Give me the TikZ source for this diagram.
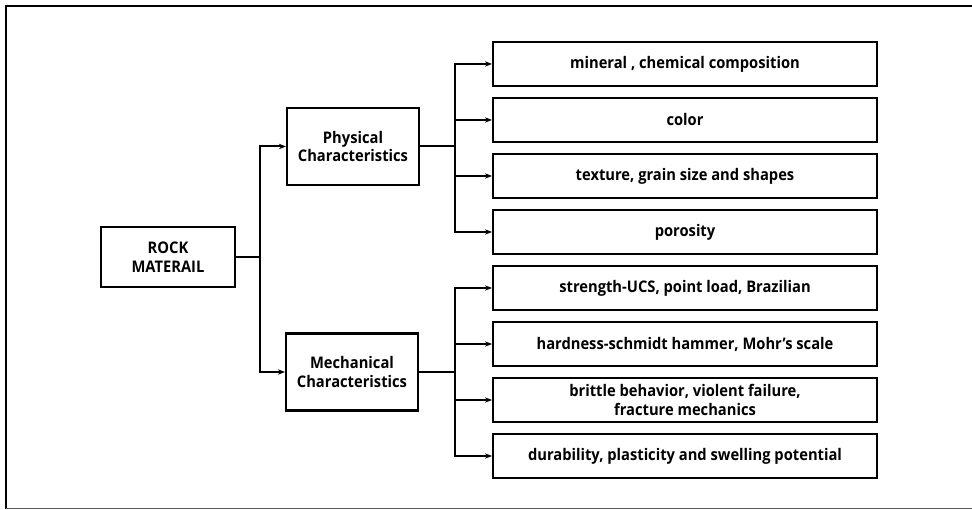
\documentclass[tikz,border=0pt]{standalone}
\usepackage{fontspec}
\setmainfont[FakeStretch=0.92]{Open Sans}
\usetikzlibrary{arrows.meta}
\begin{document}
\begin{tikzpicture}[x=1pt,y=-1pt,
  box/.style={draw=black,line width=2.2pt,fill=white,inner sep=0pt,align=center,
    font=\bfseries\fontsize{16}{18.7}\selectfont},
  leaf/.style={box,minimum width=384pt,minimum height=44pt},
  mid/.style={box,minimum width=132pt,minimum height=77pt},
  conn/.style={line width=2pt},
  arr/.style={conn,-{Stealth[length=7pt,width=5.5pt]}}]
\useasboundingbox (0,0) rectangle (972,510);
\draw[line width=2.6pt] (980,6) -- (6,6) -- (6,508.5);
\draw[line width=1.6pt,black!65] (6,508.5) -- (980,508.5);

\node[box,minimum width=134pt,minimum height=60pt] (root) at (168,257) {ROCK\\MATERAIL};
\node[mid] (phys) at (353,146.5) {Physical\\Characteristics};
\node[mid] (mech) at (352,372) {Mechanical\\Characteristics};

\node[leaf] (l1) at (685,64) {mineral , chemical composition};
\node[leaf] (l2) at (685,120) {color};
\node[leaf] (l3) at (685,176) {texture, grain size and shapes};
\node[leaf] (l4) at (685,232) {porosity};
\node[leaf] (l5) at (685,288) {strength-UCS, point load, Brazilian};
\node[leaf] (l6) at (685,344) {hardness-schmidt hammer, Mohr’s scale};
\node[leaf] (l7) at (685,400) {brittle behavior, violent failure,\\fracture mechanics};
\node[leaf] (l8) at (685,456) {durability, plasticity and swelling potential};

\coordinate (j0) at (260,257);
\coordinate (j1) at (455,146.5);
\coordinate (j2) at (455,372);

\draw[conn] (root.east) -- (j0);
\draw[arr] (j0) |- (phys.west);
\draw[arr] (j0) |- (mech.west);

\draw[conn] (phys.east) -- (j1);
\foreach \n in {l1,l2,l3,l4} \draw[arr] (j1) |- (\n.west);
\draw[conn] (mech.east) -- (j2);
\foreach \n in {l5,l6,l7,l8} \draw[arr] (j2) |- (\n.west);
\end{tikzpicture}
\end{document}
